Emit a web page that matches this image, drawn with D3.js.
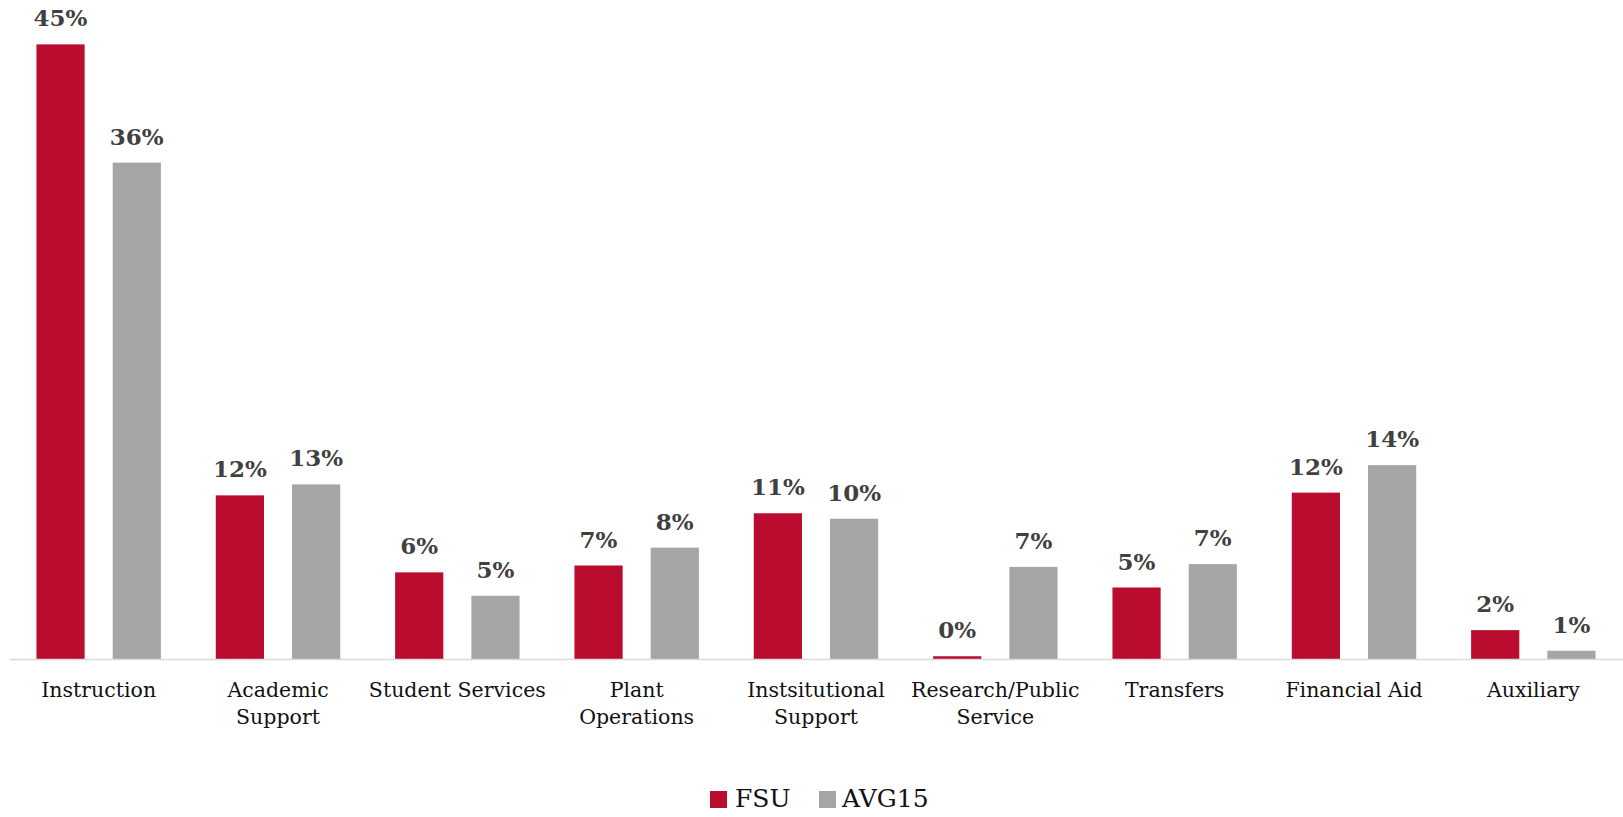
<!DOCTYPE html>
<html><head><meta charset="utf-8">
<script src="https://cdn.jsdelivr.net/npm/d3@7"></script>
<style>body{margin:0;background:#fff}svg{display:block}</style>
</head><body>
<svg id="c" width="1623" height="817"></svg>
<script>
const categories = [["Instruction"],["Academic","Support"],["Student Services"],["Plant","Operations"],["Instsitutional","Support"],["Research/Public","Service"],["Transfers"],["Financial Aid"],["Auxiliary"]];
const seriesNames = ["FSU","AVG15"];
const fsu =   [44.7, 11.9, 6.3, 6.8, 10.6, 0.2, 5.2, 12.1, 2.1];
const avg15 = [36.1, 12.7, 4.6, 8.1, 10.2, 6.7, 6.9, 14.1, 0.6];
const colors = ["#BA0C2F", "#A5A5A5"];

const svg = d3.select("#c");
const x0 = d3.scaleBand().domain(d3.range(categories.length)).range([9, 1623]).padding(0);
const x1 = d3.scaleBand().domain(seriesNames).range([0, x0.bandwidth()]).paddingInner(0.368).paddingOuter(0.36);
const y = d3.scaleLinear().domain([0, 50]).range([659, 659 - 50 * 13.75]);
const series = [fsu, avg15];

const g = svg.append("g");
categories.forEach((c, i) => {
  seriesNames.forEach((s, j) => {
    const v = series[j][i];
    const bx = x0(i) + x1(s);
    g.append("rect").attr("x", bx).attr("y", y(v)).attr("width", x1.bandwidth()).attr("height", y(0) - y(v)).attr("fill", colors[j]);
    g.append("text").attr("x", bx + x1.bandwidth() / 2).attr("y", y(v) - 18)
      .attr("text-anchor", "middle").attr("font-family", "DejaVu Serif").attr("font-weight", "bold")
      .attr("font-size", 23).attr("fill", "#404040").text(Math.round(v) + "%");
  });
});

// axis line
const axis = d3.axisBottom(x0).tickSize(0).tickFormat("");
const ax = svg.append("g").attr("transform", `translate(0,${y(0)})`).call(axis);
ax.select(".domain").attr("stroke", "#d9d9d9").attr("stroke-width", 1.5).attr("d", "M10,0.5H1623");

// category labels
categories.forEach((lines, i) => {
  const t = svg.append("text").attr("x", x0(i) + x0.bandwidth() / 2).attr("y", 697)
    .attr("text-anchor", "middle").attr("font-family", "DejaVu Serif").attr("font-size", 20.5).attr("fill", "#111");
  lines.forEach((l, k) => t.append("tspan").attr("x", x0(i) + x0.bandwidth() / 2).attr("dy", k ? 27 : 0).text(l));
});

// legend
const leg = [[710, 735], [819, 842]];
seriesNames.forEach((s, j) => {
  svg.append("rect").attr("x", leg[j][0]).attr("y", 791).attr("width", 17).attr("height", 17).attr("fill", colors[j]);
  svg.append("text").attr("x", leg[j][1]).attr("y", 807).attr("font-family", "DejaVu Serif").attr("font-size", 25).attr("fill", "#111").text(s);
});
</script>
</body></html>
